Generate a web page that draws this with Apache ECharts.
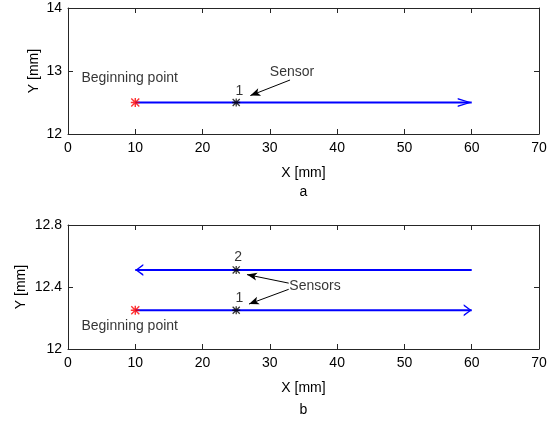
<!DOCTYPE html>
<html>
<head>
<meta charset="utf-8">
<script src="https://cdn.jsdelivr.net/npm/echarts@6/dist/echarts.min.js"></script>
<style>
  html, body { margin: 0; padding: 0; background: #fff; }
  #chart { width: 560px; height: 421px; }
</style>
</head>
<body>
<div id="chart"></div>
<script>
// ---- data (mm) ----
// plot a: one pass
var passAX = [10, 60];
var passAY = [12.5, 12.5];
var startA = [10, 12.5];
var sensorsA = [[25, 12.5]];

// plot b: two passes (second one goes back)
var pass1X = [10, 60];
var pass1Y = [12.25, 12.25];
var pass2X = [60, 10];
var pass2Y = [12.51, 12.51];
var startB = [10, 12.25];
var sensorsB = [[25, 12.25], [25, 12.51]];

// annotation text: [x, y, text]
var notesA = [[2, 12.89, 'Beginning point'], [30, 12.98, 'Sensor'], [24.9, 12.68, '1']];
var notesB = [[2, 12.145, 'Beginning point'], [32.9, 12.403, 'Sensors'], [24.7, 12.59, '2'], [24.9, 12.33, '1']];

// annotation arrows: [from, to]
var arrowsA = [[[33, 12.857], [27.1, 12.61]]];
var arrowsB = [[[32.8, 12.425], [26.6, 12.48]], [[32.8, 12.385], [26.9, 12.29]]];

var AX = '#262626';
var FONT = 'Liberation Sans';
var STAR = 'path://M4.2,0h1.6v10h-1.6z M0,4.2h10v1.6h-10z M1.1,0L10,8.9L8.9,10L0,1.1Z M8.9,0L10,1.1L1.1,10L0,8.9Z';
var CHEV_R = 'path://M0,0L14,4.5L0,9L0,7.6L10.4,4.5L0,1.4Z';
var CHEV_L = 'path://M14,0L0,4.5L14,9L14,7.6L3.6,4.5L14,1.4Z';

function zip(xs, ys) {
  return xs.map(function (x, i) { return [x, ys[i]]; });
}

function pathSeries(xs, ys, idx, dir, head) {
  var pts = zip(xs, ys);
  return {
    type: 'line', xAxisIndex: idx * 2, yAxisIndex: idx * 2,
    data: pts.map(function (p, i) {
      if (i < pts.length - 1) return { value: p, symbol: 'none' };
      return {
        value: p,
        symbol: dir > 0 ? CHEV_R : CHEV_L,
        symbolSize: head,
        symbolOffset: [dir > 0 ? -head[0] / 2 : head[0] / 2, 0]
      };
    }),
    lineStyle: { color: '#0000ff', width: 2 },
    itemStyle: { color: '#0000ff' },
    silent: true, z: 3
  };
}

function starSeries(pts, idx, color, size, arrows) {
  var s = {
    type: 'scatter', xAxisIndex: idx * 2, yAxisIndex: idx * 2,
    data: pts, symbol: STAR, symbolSize: size,
    itemStyle: { color: color }, silent: true, z: 5
  };
  if (arrows) {
    s.markLine = {
      silent: true,
      symbol: ['none', 'arrow'],
      symbolSize: [6, 10],
      label: { show: false },
      lineStyle: { color: '#000', width: 1, type: 'solid' },
      emphasis: { disabled: true },
      data: arrows.map(function (a) {
        return [{ coord: a[0] }, { coord: a[1] }];
      })
    };
  }
  return s;
}

function noteSeries(notes, idx) {
  return {
    type: 'scatter', xAxisIndex: idx * 2, yAxisIndex: idx * 2,
    data: notes.map(function (n) { return { value: [n[0], n[1]], name: n[2] }; }),
    symbolSize: 1,
    itemStyle: { color: 'rgba(0,0,0,0)' },
    label: {
      show: true, position: 'inside', align: 'left', verticalAlign: 'middle',
      formatter: '{b}', color: '#000', fontSize: 14, fontFamily: FONT
    },
    silent: true, z: 6
  };
}

function xAxes(idx) {
  var base = {
    gridIndex: idx, type: 'value', min: 0, max: 70, interval: 10,
    axisLine: { show: true, onZero: false, lineStyle: { color: AX, width: 1 } },
    axisTick: { show: true, inside: true, length: 5, lineStyle: { color: AX } },
    splitLine: { show: false }
  };
  var bottom = Object.assign({}, base, {
    position: 'bottom',
    axisLabel: { color: '#000', fontSize: 14, fontFamily: FONT, margin: 7 },
    name: 'X [mm]', nameLocation: 'middle', nameGap: 32,
    nameTextStyle: { color: '#000', fontSize: 14, fontFamily: FONT }
  });
  var top = Object.assign({}, base, { position: 'top', axisLabel: { show: false } });
  return [bottom, top];
}

function yAxes(idx, min, max, step, gap) {
  var base = {
    gridIndex: idx, type: 'value', min: min, max: max, interval: step,
    axisLine: { show: true, onZero: false, lineStyle: { color: AX, width: 1 } },
    axisTick: { show: true, inside: true, length: 5, lineStyle: { color: AX } },
    splitLine: { show: false }
  };
  var left = Object.assign({}, base, {
    position: 'left',
    axisLabel: { color: '#000', fontSize: 14, fontFamily: FONT, margin: 6 },
    name: 'Y [mm]', nameLocation: 'middle', nameGap: gap, nameMoveOverlap: false,
    nameTextStyle: { color: '#000', fontSize: 14, fontFamily: FONT }
  });
  var right = Object.assign({}, base, { position: 'right', axisLabel: { show: false } });
  return [left, right];
}

var chart = echarts.init(document.getElementById('chart'), null, { renderer: 'canvas' });

var option = {
  backgroundColor: '#fff',
  animation: false,
  grid: [
    { left: 68, right: 21, top: 8, height: 126 },
    { left: 68, right: 21, top: 225, height: 124 }
  ],
  xAxis: xAxes(0).concat(xAxes(1)),
  yAxis: yAxes(0, 12, 14, 1, 27).concat(yAxes(1, 12, 12.8, 0.4, 40)),
  graphic: [
    { type: 'text', x: 303.5, y: 192, style: { text: 'a', fill: '#000', font: '14px "Liberation Sans"', textAlign: 'center', textVerticalAlign: 'middle' } },
    { type: 'text', x: 303.5, y: 410, style: { text: 'b', fill: '#000', font: '14px "Liberation Sans"', textAlign: 'center', textVerticalAlign: 'middle' } }
  ],
  series: [
    pathSeries(passAX, passAY, 0, 1, [14, 9]),
    starSeries(sensorsA, 0, '#000', 8, arrowsA),
    starSeries([startA], 0, '#ff0000', 9),
    noteSeries(notesA, 0),

    pathSeries(pass1X, pass1Y, 1, 1, [8, 12]),
    pathSeries(pass2X, pass2Y, 1, -1, [8, 12]),
    starSeries(sensorsB, 1, '#000', 8, arrowsB),
    starSeries([startB], 1, '#ff0000', 9),
    noteSeries(notesB, 1)
  ]
};

chart.setOption(option);
</script>
</body>
</html>
